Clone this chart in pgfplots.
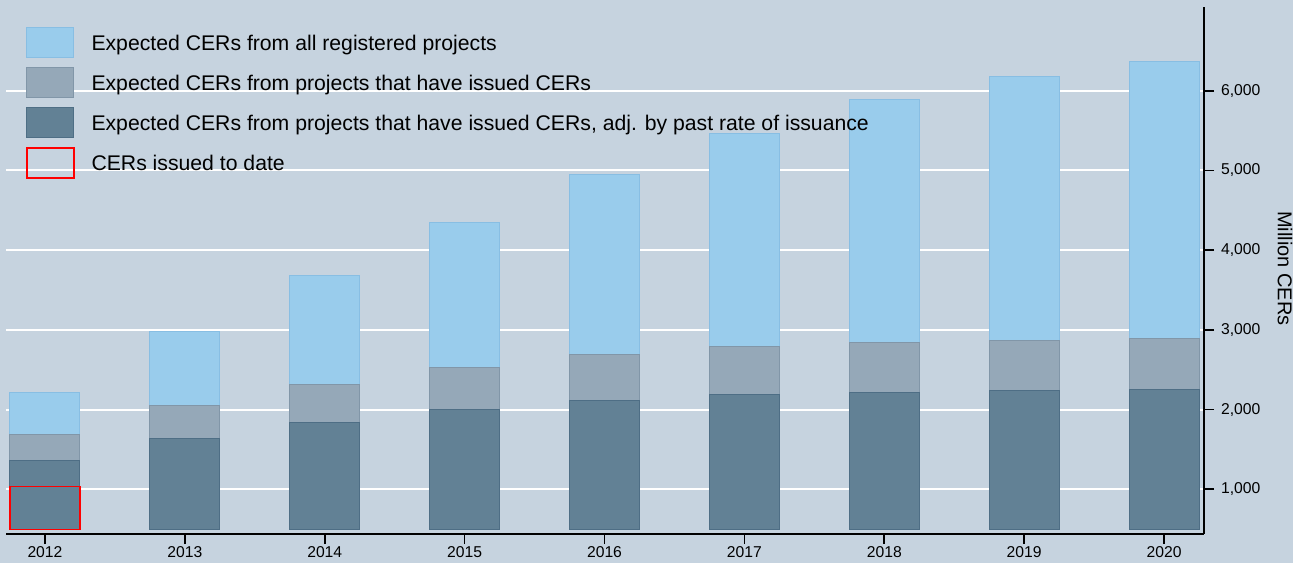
\documentclass[border=0pt]{standalone}
\usepackage{pgfplots}
\usepackage{pgfplotstable}
\pgfplotsset{compat=1.18}
\usepackage{fontspec}
\setmainfont{Liberation Sans}
\definecolor{bg}{HTML}{C6D3DF}
\definecolor{lightfill}{HTML}{99CCEC}
\definecolor{lightedge}{HTML}{88BEE3}
\definecolor{greyfill}{HTML}{95A8B8}
\definecolor{greyedge}{HTML}{8196A8}
\definecolor{darkfill}{HTML}{628195}
\definecolor{darkedge}{HTML}{4E6E85}

% x: 0 = 2012 ... 8 = 2020; values in million CERs
\pgfplotstableread{
x base dark grey light
0 495 1359 1690 2217
1 495 1631 2045 2977
2 495 1840 2312 3688
3 495 1995 2530 4349
4 495 2116 2693 4951
5 495 2187 2794 5469
6 495 2220 2844 5892
7 495 2237 2869 6184
8 495 2246 2889 6364
}\cerdata

\pgfplotstableread{
x base issued
0 495 1038
}\issueddata

\pgfplotsset{
  common/.style={
    at={(3pt,14.5pt)}, anchor=south west,
    scale only axis, width=599pt, height=263.5pt,
    xmin=-0.2786, xmax=8.2857, ymin=439, ymax=7050,
    ybar stacked, bar width=35pt,
  },
  boxlegend/.style={legend image code/.code={\draw[##1] (0pt,-7.5pt) rectangle (23.5pt,7.5pt);}},
}

\begin{document}
\begin{tikzpicture}
\useasboundingbox (0,0) rectangle (646.5pt,281.5pt);
\fill[bg] (0,0) rectangle (646.5pt,281.5pt);
\begin{axis}[
  common,
  axis x line*=bottom, axis y line*=right,
  axis line style={line width=0.8pt, black},
  xtick={0,1,2,3,4,5,6,7,8},
  xticklabels={2012,2013,2014,2015,2016,2017,2018,2019,2020},
  ytick={1000,2000,3000,4000,5000,6000},
  ymajorgrids, grid style={white, line width=1pt},
  tick align=outside, major tick length=5pt,
  tick style={black, line width=0.8pt},
  tick label style={font=\fontsize{7.85}{9}\selectfont},
  xticklabel style={inner sep=1.2pt},
  /pgf/number format/assume math mode=true,
  /pgf/number format/1000 sep={,},
  every axis y label/.style={at={(rel axis cs:1,0.5)}, xshift=40.5pt, yshift=1pt, rotate=-90, anchor=center, font=\fontsize{10}{12}\selectfont},
  ylabel={Million CERs},
  legend style={at={(0,1)}, anchor=north west, xshift=10pt, yshift=-10pt,
    draw=none, fill=none, inner sep=0pt, outer sep=0pt, row sep=4.5pt, column sep=8.5pt,
    nodes={inner sep=0pt, text height=7.6pt, text depth=0pt, font=\fontsize{10.6}{12}\selectfont}},
  legend cell align=left,
]
\addlegendimage{boxlegend, fill=lightfill, draw=lightedge, line width=0.5pt}
\addlegendentry{Expected CERs from all registered projects}
\addlegendimage{boxlegend, fill=greyfill, draw=greyedge, line width=0.5pt}
\addlegendentry{Expected CERs from projects that have issued CERs}
\addlegendimage{boxlegend, fill=darkfill, draw=darkedge, line width=0.5pt}
\addlegendentry{Expected CERs from projects that have issued CERs, adj. by past rate of issuance}
\addlegendimage{boxlegend, fill=none, draw=red, color=red, line width=0.75pt}
\addlegendentry{CERs issued to date}

\addplot[forget plot, draw=none, fill=none] table[x=x, y=base] {\cerdata};
\addplot[forget plot, fill=darkfill, draw=darkedge, line width=0.5pt] table[x=x, y expr=\thisrow{dark}-\thisrow{base}] {\cerdata};
\addplot[forget plot, fill=greyfill, draw=greyedge, line width=0.5pt] table[x=x, y expr=\thisrow{grey}-\thisrow{dark}] {\cerdata};
\addplot[forget plot, fill=lightfill, draw=lightedge, line width=0.5pt] table[x=x, y expr=\thisrow{light}-\thisrow{grey}] {\cerdata};
\end{axis}
\begin{axis}[common, hide axis]
\addplot[draw=none, fill=none] table[x=x, y=base] {\issueddata};
\addplot[fill=none, draw=red, line width=0.75pt] table[x=x, y expr=\thisrow{issued}-\thisrow{base}] {\issueddata};
\end{axis}
\end{tikzpicture}
\end{document}
